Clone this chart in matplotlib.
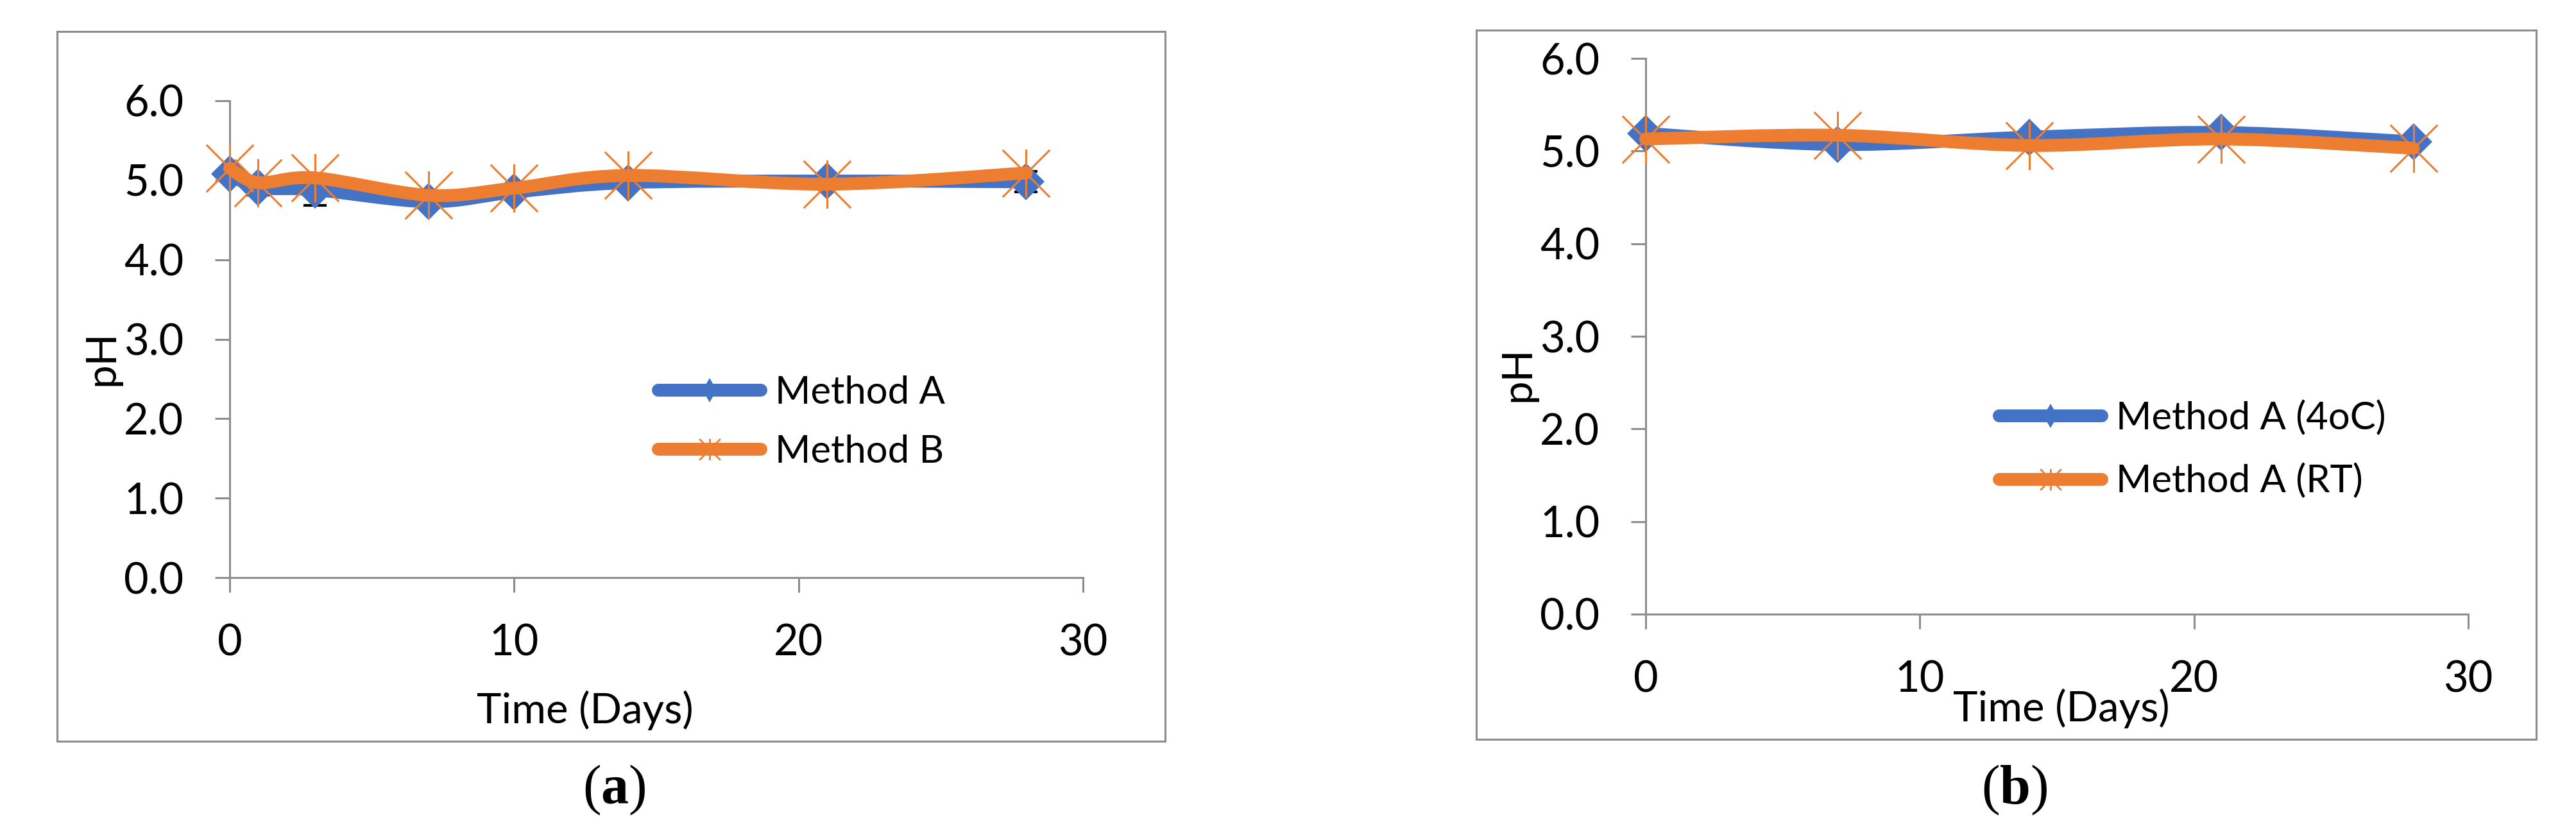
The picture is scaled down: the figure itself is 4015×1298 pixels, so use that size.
import numpy as np
import matplotlib
matplotlib.use("Agg")
import matplotlib.pyplot as plt
from matplotlib.path import Path
from matplotlib.patches import PathPatch, Rectangle
from matplotlib.lines import Line2D

plt.rcParams['font.family'] = ['Lato', 'DejaVu Sans']
plt.rcParams['mathtext.fontset'] = 'custom'
plt.rcParams['mathtext.bf'] = 'Liberation Serif:bold'

# panel (a)
days_a = [0, 1, 3, 7, 10, 14, 21, 28]
ph_method_a = [5.08, 4.91, 4.88, 4.73, 4.85, 4.97, 4.99, 4.98]
ph_method_b = [5.15, 4.97, 5.03, 4.81, 4.90, 5.06, 4.95, 5.09]
err_method_a = [0.05, 0.10, 0.20, 0.05, 0.05, 0.05, 0.05, 0.13]
labels_a = ['Method A', 'Method B']

# panel (b)
days_b = [0, 7, 14, 21, 28]
ph_4c = [5.19, 5.07, 5.15, 5.20, 5.10]
ph_rt = [5.13, 5.17, 5.06, 5.13, 5.03]
labels_b = ['Method A (4oC)', 'Method A (RT)']

x_ticks = [0, 10, 20, 30]
y_ticks = [0, 1, 2, 3, 4, 5, 6]

BLUE = '#4472C4'
ORANGE = '#ED7D31'
GRAY = '#8C8C8C'

W, H = 4015, 1298

# star marker like the office one: an X with a vertical bar
STAR = Path([(-1, -1), (1, 1), (-1, 1), (1, -1), (0, -1.02), (0, 1.02)],
            [Path.MOVETO, Path.LINETO, Path.MOVETO, Path.LINETO, Path.MOVETO, Path.LINETO])


def fx(p):
    return p / W


def fy(p):
    return 1 - p / H


def smooth_path(x, y):
    # bezier through the points (smoothed line style)
    pts = np.column_stack([x, y]).astype(float)
    n = len(pts)
    verts = [pts[0]]
    codes = [Path.MOVETO]
    for i in range(n - 1):
        p0 = pts[max(i - 1, 0)]
        p1 = pts[i]
        p2 = pts[i + 1]
        p3 = pts[min(i + 2, n - 1)]
        verts += [p1 + (p2 - p0) / 6, p2 - (p3 - p1) / 6, p2]
        codes += [Path.CURVE4] * 3
    return Path(verts, codes)


def draw_series(ax, x, y, color, marker, z):
    patch = PathPatch(smooth_path(x, y), fill=False, ec=color, lw=14.4,
                      capstyle='round', joinstyle='round', zorder=z, clip_on=False)
    ax.add_patch(patch)
    if marker == 'D':
        ax.plot(x, y, ls='none', marker='D', ms=29.5, mfc=color, mec=color,
                mew=0, zorder=z + 0.5, clip_on=False)
    else:
        ax.plot(x, y, ls='none', marker=STAR, ms=54, mfc='none', mec=color,
                mew=2.2, zorder=z + 2, clip_on=False)


def style_axes(ax):
    ax.set_xlim(0, 30)
    ax.set_ylim(0, 6)
    ax.set_xticks(x_ticks)
    ax.set_yticks(y_ticks)
    ax.set_yticklabels([f'{v:.1f}' for v in y_ticks])
    for s in ['top', 'right']:
        ax.spines[s].set_visible(False)
    for s in ['left', 'bottom']:
        ax.spines[s].set_color(GRAY)
        ax.spines[s].set_linewidth(2.2)
    ax.tick_params(length=16.6, width=2.2, color=GRAY, pad=35, labelsize=48)
    ax.patch.set_visible(False)


def legend_handles():
    h1 = Line2D([], [], color=BLUE, lw=14.4, solid_capstyle='round',
                marker='d', ms=19, mfc=BLUE, mec=BLUE, mew=0)
    h2 = Line2D([], [], color=ORANGE, lw=14.4, solid_capstyle='round',
                marker=STAR, ms=24, mfc='none', mec=ORANGE, mew=2)
    return [h1, h2]


fig = plt.figure(figsize=(W / 100, H / 100), dpi=100)

# frames round the two charts
fig.patches.append(Rectangle((fx(89), fy(1155)), (1816 - 89) / W, (1155 - 49) / H,
                             transform=fig.transFigure, fill=False, ec=GRAY, lw=2.2))
fig.patches.append(Rectangle((fx(2301), fy(1152)), (3953 - 2301) / W, (1152 - 47) / H,
                             transform=fig.transFigure, fill=False, ec=GRAY, lw=2.2))

# (a)
ax_a = fig.add_axes([fx(358), fy(900), (1688 - 358) / W, (900 - 157) / H])
style_axes(ax_a)
ax_a.errorbar(days_a, ph_method_a, yerr=err_method_a, fmt='none', ecolor='black',
              elinewidth=1, capsize=13, capthick=3, zorder=1, clip_on=False)
draw_series(ax_a, days_a, ph_method_a, BLUE, 'D', 2)
draw_series(ax_a, days_a, ph_method_b, ORANGE, '*', 4)
ax_a.set_xlabel('Time (Days)', fontsize=47)
ax_a.xaxis.set_label_coords(0.4165, -0.2786)
ax_a.xaxis.label.set_va('center')
ax_a.set_ylabel('pH', fontsize=47)
ax_a.yaxis.set_label_coords(-0.1496, 0.4603)
ax_a.yaxis.label.set_va('center')
ax_a.legend(legend_handles(), labels_a, loc='center left', bbox_to_anchor=(0.5023, 0.3257),
            frameon=False, borderpad=0, borderaxespad=0, fontsize=43,
            handlelength=2.68, handletextpad=0.37, labelspacing=0.64)

# (b)
ax_b = fig.add_axes([fx(2565), fy(957), (3847 - 2565) / W, (957 - 91) / H])
style_axes(ax_b)
draw_series(ax_b, days_b, ph_4c, BLUE, 'D', 2)
draw_series(ax_b, days_b, ph_rt, ORANGE, '*', 4)
ax_b.set_xlabel('Time (Days)', fontsize=47)
ax_b.xaxis.set_label_coords(0.5055, -0.1697)
ax_b.xaxis.label.set_va('center')
ax_b.set_ylabel('pH', fontsize=47)
ax_b.yaxis.set_label_coords(-0.1552, 0.4319)
ax_b.yaxis.label.set_va('center')
ax_b.legend(legend_handles(), labels_b, loc='center left', bbox_to_anchor=(0.4298, 0.2962),
            frameon=False, borderpad=0, borderaxespad=0, fontsize=43,
            handlelength=2.68, handletextpad=0.37, labelspacing=0.72)

# captions
fig.text(fx(957), fy(1231), r'($\mathbf{a}$)', family='Liberation Serif', fontsize=62,
         ha='center', va='center')
fig.text(fx(3140), fy(1231), r'($\mathbf{b}$)', family='Liberation Serif', fontsize=62,
         ha='center', va='center')

fig.savefig('out.png', dpi=100)
